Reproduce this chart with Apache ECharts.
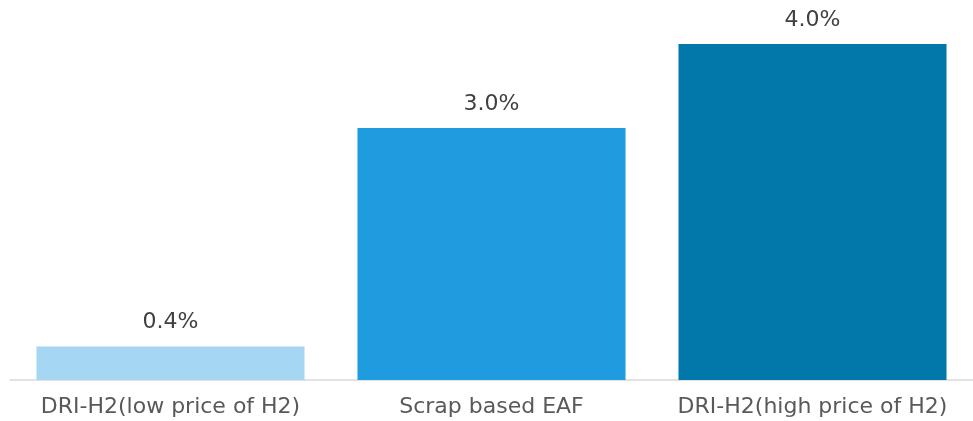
<!DOCTYPE html>
<html><head><meta charset="utf-8">
<script src="https://cdn.jsdelivr.net/npm/echarts@6/dist/echarts.min.js"></script>
<style>html,body{margin:0;padding:0;background:#fff}#c{width:973px;height:421px}</style>
</head><body><div id="c"></div>
<script>
const categories = ["DRI-H2(low price of H2)", "Scrap based EAF", "DRI-H2(high price of H2)"];
const values = [0.4, 3.0, 4.0];
const colors = ["#A5D7F3", "#1F9CDF", "#0277AA"];

const chart = echarts.init(document.getElementById('c'), null, {renderer: 'canvas'});
chart.setOption({
  animation: false,
  grid: {left: 10, right: 0, top: 44, bottom: 41, containLabel: false},
  xAxis: {
    type: 'category', data: categories,
    axisLine: {show: true, lineStyle: {color: '#D9D9D9', width: 1.5}},
    axisTick: {show: false},
    axisLabel: {interval: 0, hideOverlap: false, color: '#595959', fontFamily: 'DejaVu Sans', fontSize: 22, margin: 16}
  },
  yAxis: {type: 'value', min: 0, max: 4, show: false, splitLine: {show: false}},
  series: [{
    type: 'bar', barCategoryGap: '16.5%',
    data: values.map((v, i) => ({value: v, itemStyle: {color: colors[i]}})),
    label: {show: true, position: 'top', distance: 13, color: '#404040', fontFamily: 'DejaVu Sans', fontSize: 22,
      formatter: p => p.value.toFixed(1) + '%'}
  }]
});
</script></body></html>
